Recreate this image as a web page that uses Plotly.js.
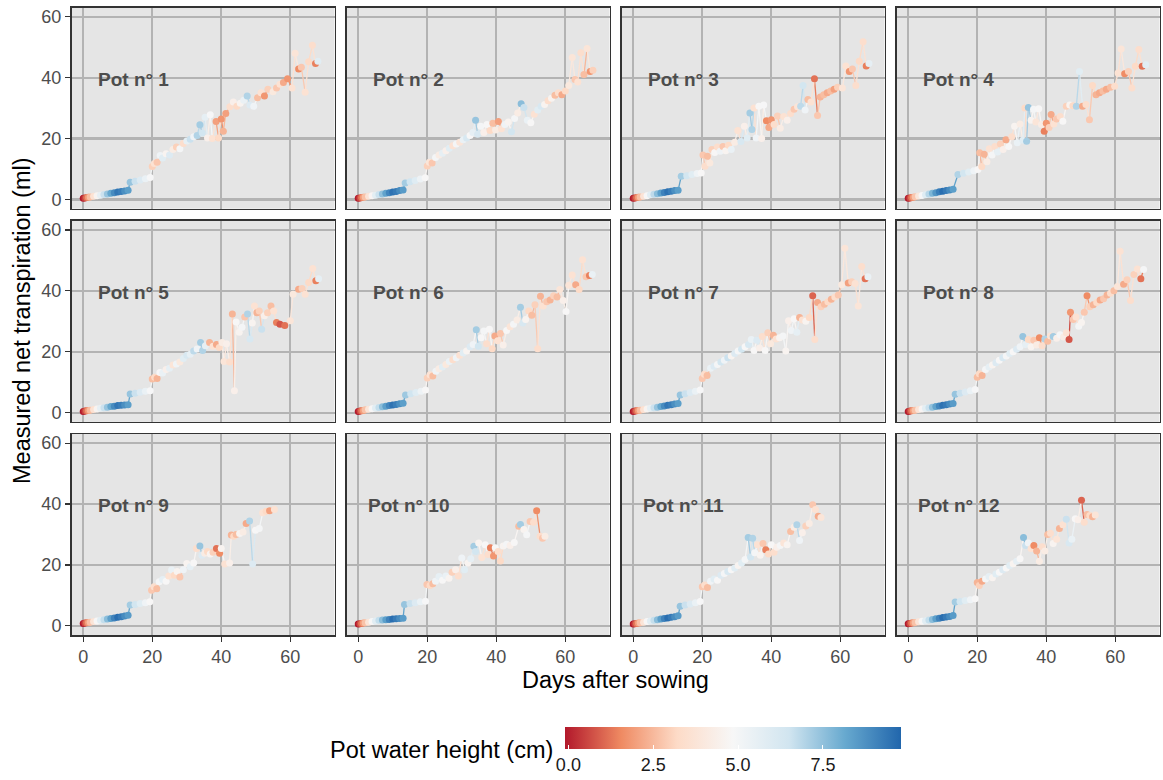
<!DOCTYPE html>
<html>
<head>
<meta charset="utf-8">
<script src="https://cdn.plot.ly/plotly-3.0.1.min.js"></script>
<style>html,body{margin:0;padding:0;background:#fff;}#chart{width:1163px;height:780px;}</style>
</head>
<body>
<div id="chart"></div>
<script>
// Each point: [days after sowing, measured net transpiration (ml), pot water height (cm)]
const pot1 = [[0,0.4,-0.1],[0.5,0.5,0.5],[1,0.6,1.2],[1.5,0.7,1.9],[2,0.8,2.6],[3,1.0,3.6],[4,1.2,4.6],[5,1.4,5.6],[6,1.6,6.6],[7,1.8,7.4],[8,2.0,8.2],[9,2.2,8.9],[10,2.4,9.4],[11,2.6,9.2],[12,2.8,8.8],[13,3.0,8.4],[13.6,5.6,7.4],[15,6.0,6.6],[16.5,6.4,6.0],[18,6.8,5.4],[19.4,7.2,4.9],
[20,10.8,3.0],[20.6,11.8,3.6],[21.4,12.2,2.8],[22.3,14.4,5.2],[23,13.6,5.8],[24,15.0,4.6],[25,14.6,6.0],[26,16.4,4.2],[27,17.2,3.0],[28,16.6,5.0],[29,18.4,3.4],[30,19.2,5.6],[31,19.8,6.6],[32,20.6,5.2],[33,21.0,7.0],[33.8,24.5,7.2],[34.5,21.8,6.4],[35.3,27.0,5.6],[36,20.2,4.4],[36.8,27.8,4.9],[37.4,20.0,3.6],[38.5,25.6,2.0],[39.2,20.2,3.2],[40,26.4,1.8],[40.6,22.4,2.4],[41.3,28.2,2.0],[42.5,30.4,3.4],[43.5,32.0,4.4],[44.5,30.6,3.2],[45.5,31.6,4.6],[46.5,32.6,5.4],[47.5,34.0,7.0],[48.3,31.0,6.0],[49.4,30.6,5.2],[50.5,33.4,2.6],[51.5,35.0,3.6],[52.5,34.0,1.8],[53.5,36.2,3.0],[55,35.4,4.0],[56,36.6,2.8],[57,37.8,3.6],[58,38.4,2.2],[59.2,39.6,1.8],[60.5,36.6,3.6],[61.4,48.0,3.8],[62.4,42.8,1.6],[63.2,43.4,2.8],[64.3,35.2,3.6],[65.3,45.2,3.2],[66.4,50.6,3.4],[67.3,44.6,1.4],[68,45.4,5.8]];

const pot2 = [[0,0.4,-0.1],[0.5,0.5,0.6],[1,0.6,1.3],[1.5,0.7,2.0],[2,0.8,2.7],[3,1.0,3.7],[4,1.2,4.7],[5,1.4,5.7],[6,1.6,6.6],[7,1.8,7.5],[8,2.0,8.3],[9,2.2,9.0],[10,2.4,9.5],[11,2.6,9.3],[12,2.9,8.9],[13,3.1,8.5],[13.6,5.4,7.2],[15,5.8,6.5],[16.5,6.2,5.9],[18,6.7,5.3],[19.4,7.1,4.8],
[20,11.0,3.0],[20.6,12.2,3.8],[21.4,12.0,2.8],[22.4,13.8,5.0],[23.4,14.6,4.2],[24.4,15.2,5.6],[25.4,16.0,4.4],[26.4,16.8,5.8],[27.4,17.6,3.6],[28.4,18.2,5.0],[29.4,18.8,3.8],[30.4,19.6,5.4],[31.4,20.2,6.2],[32.4,21.0,4.8],[33.2,22.0,5.6],[34,26.0,7.4],[34.6,21.4,6.2],[35.5,24.0,5.0],[36.4,22.0,4.4],[37.3,24.6,4.8],[38.2,22.6,3.2],[39,25.0,2.6],[39.8,22.8,4.2],[40.6,25.6,2.0],[41.5,23.2,3.6],[42.5,24.6,5.2],[43.5,25.4,4.6],[44.4,22.2,6.4],[45.3,26.6,5.0],[46.2,28.4,4.2],[47.2,31.4,7.6],[48,30.2,6.6],[49,26.0,5.4],[50,25.2,4.8],[51,28.0,3.6],[52,29.4,5.8],[53,30.6,6.2],[54,31.2,4.6],[55,32.4,3.4],[56,33.2,4.6],[57,34.2,2.6],[58,35.0,3.4],[59,34.4,2.2],[60,35.6,3.2],[61,37.4,4.0],[62,46.6,3.8],[62.8,39.4,2.8],[63.6,38.6,3.6],[64.5,48.2,3.4],[65.4,41.0,2.6],[66.3,49.6,3.8],[67.2,42.0,1.8],[68,42.4,3.0]];

const pot3 = [[0,0.4,-0.1],[0.5,0.5,0.5],[1,0.6,1.2],[1.5,0.7,1.9],[2,0.8,2.6],[3,1.0,3.7],[4,1.2,4.8],[5,1.5,5.8],[6,1.7,6.8],[7,1.9,7.6],[8,2.1,8.4],[9,2.3,9.1],[10,2.5,9.5],[11,2.7,9.2],[12,2.9,8.8],[13,3.0,8.4],[13.9,7.6,7.2],[15.5,7.8,6.4],[17,8.2,5.8],[18.5,8.5,5.2],[19.7,8.7,4.8],
[20.2,14.6,2.8],[20.8,10.9,3.4],[21.5,14.2,2.6],[22.2,12.0,4.0],[22.8,16.4,3.0],[23.6,15.4,4.8],[24.4,17.2,3.4],[25.2,15.8,5.2],[26,17.4,2.8],[26.8,16.0,4.6],[27.6,17.8,3.2],[28.4,16.4,5.4],[29.4,18.8,4.2],[30.3,22.6,3.6],[31.2,19.0,6.2],[32.2,24.0,4.4],[33,20.2,5.8],[33.8,28.4,7.2],[34.4,23.0,7.0],[35,30.0,3.6],[35.6,20.2,5.2],[36.4,30.6,4.8],[37.2,20.0,4.4],[37.8,31.0,4.9],[38.6,25.8,1.6],[39.3,23.6,2.2],[40,26.2,1.8],[40.8,24.6,3.4],[41.8,27.4,3.0],[42.6,23.4,4.2],[43.6,27.2,3.6],[44.6,26.0,4.4],[45.6,28.2,3.4],[46.6,29.6,2.8],[47.6,30.4,3.8],[48.5,30.6,6.8],[49.2,37.4,6.4],[49.8,29.4,5.2],[50.6,32.8,2.6],[51.5,32.0,3.6],[52.5,39.6,1.2],[53.4,27.6,2.8],[54.2,33.6,2.4],[55.2,34.4,2.6],[56.2,35.0,2.2],[57.2,35.6,2.6],[58.2,36.2,2.0],[59.2,36.8,3.0],[60.6,36.6,3.8],[61.6,43.8,3.6],[62.6,42.0,1.8],[63.5,42.8,2.8],[64.5,37.4,3.4],[65.5,45.4,3.2],[66.6,51.8,3.4],[67.5,43.8,1.4],[68.3,44.6,5.6]];

const pot4 = [[0,0.4,-0.1],[0.5,0.5,0.6],[1,0.6,1.3],[1.5,0.7,2.0],[2,0.9,2.8],[3,1.1,3.9],[4,1.3,4.9],[5,1.5,5.9],[6,1.8,6.9],[7,2.0,7.8],[8,2.2,8.6],[9,2.5,9.2],[10,2.7,9.6],[11,2.9,9.3],[12,3.1,8.9],[13,3.3,8.4],[14.4,8.2,7.0],[16,8.6,6.4],[17.5,9.0,5.8],[19,9.4,5.2],[20.2,9.8,4.8],
[20.7,15.3,2.6],[21.3,10.8,3.2],[22,14.8,2.4],[22.8,12.4,4.2],[23.5,16.6,3.6],[24.3,14.6,5.0],[25.1,17.4,3.4],[25.9,15.6,5.6],[26.7,18.2,3.0],[27.5,16.4,4.4],[28.3,19.6,2.2],[29.1,17.4,4.8],[30,20.6,3.4],[30.8,24.0,4.6],[31.6,18.6,5.4],[32.4,24.8,4.2],[33.2,19.4,5.8],[33.8,30.0,3.2],[34.3,19.1,7.2],[34.8,30.2,7.4],[35.6,26.0,4.6],[36.3,29.6,5.0],[37,25.4,3.8],[37.8,29.8,4.8],[38.6,24.6,4.2],[39.4,22.4,1.4],[40,25.0,1.8],[40.8,23.6,3.0],[41.4,27.9,2.2],[42.2,24.8,3.6],[43,26.4,2.8],[44,27.2,3.4],[44.8,25.7,4.8],[45.8,30.6,3.0],[46.8,31.0,4.6],[47.7,30.8,3.2],[48.7,30.6,7.0],[49.6,42.0,5.8],[50.5,30.6,2.2],[51.5,31.2,3.4],[52.5,26.2,2.8],[53.4,37.4,3.2],[54.4,34.4,2.4],[55.4,35.0,2.2],[56.4,35.6,2.6],[57.4,36.2,2.2],[58.6,36.8,2.6],[59.8,37.2,3.4],[60.8,41.5,3.6],[61.7,49.4,3.8],[62.7,41.3,1.6],[63.8,42.0,3.0],[64.8,36.6,3.4],[65.8,43.7,3.2],[66.8,49.2,3.4],[67.8,43.7,1.2],[68.8,44.2,5.8]];

const pot5 = [[0,0.4,-0.1],[0.5,0.5,0.5],[1,0.6,1.2],[1.5,0.7,1.9],[2,0.8,2.6],[3,1.0,3.6],[4,1.2,4.6],[5,1.4,5.6],[6,1.6,6.6],[7,1.8,7.4],[8,2.0,8.2],[9,2.1,8.9],[10,2.3,9.4],[11,2.4,9.2],[12,2.5,8.8],[13,2.6,8.4],[13.6,6.1,7.4],[15,6.4,6.6],[16.5,6.7,6.0],[18,7.0,5.4],[19.4,7.2,4.9],
[20,11.0,2.6],[20.7,11.6,3.2],[21.4,11.2,2.4],[22.2,13.2,4.8],[23,13.0,5.4],[24,14.2,4.4],[25,14.6,5.6],[26,15.6,3.8],[27,16.0,5.2],[28,16.6,4.0],[29,17.8,5.8],[30,18.8,6.2],[31,19.2,5.6],[32,20.2,6.8],[33,20.9,5.2],[34,23.0,7.2],[34.6,20.4,7.0],[35.4,22.0,5.6],[36.6,23.0,2.4],[37.6,21.8,3.6],[38.6,22.4,2.2],[39.4,21.4,3.2],[40.2,23.0,4.2],[40.8,16.8,3.8],[41.5,22.6,4.4],[42.4,16.6,3.4],[43.2,32.4,2.4],[43.8,7.2,4.4],[44.3,29.8,4.8],[45.2,26.4,4.6],[46,28.0,5.0],[46.8,31.4,2.8],[47.6,32.4,7.0],[48.3,24.2,6.2],[49,29.4,4.6],[49.6,35.0,3.6],[50.3,32.8,2.4],[51,33.4,3.0],[51.7,27.4,6.6],[52.5,31.8,4.4],[53.4,32.8,3.0],[54.4,35.0,2.6],[55.2,33.4,3.6],[56,29.6,1.4],[57,29.0,0.8],[58.4,28.6,1.2],[60,30.2,3.8],[60.8,38.9,4.0],[62.4,40.5,2.2],[63.4,40.8,3.0],[64.3,38.9,3.6],[65.3,42.7,3.2],[66.5,47.3,3.6],[67.4,43.3,1.4],[68.2,44.0,5.6]];

const pot6 = [[0,0.4,-0.1],[0.5,0.5,0.6],[1,0.6,1.3],[1.5,0.7,2.0],[2,0.9,2.7],[3,1.1,3.8],[4,1.3,4.8],[5,1.5,5.8],[6,1.7,6.7],[7,1.9,7.6],[8,2.1,8.4],[9,2.3,9.0],[10,2.5,9.5],[11,2.7,9.2],[12,2.9,8.8],[13,3.1,8.4],[13.7,5.8,7.3],[15.2,6.2,6.5],[16.7,6.6,5.9],[18.2,7.0,5.3],[19.5,7.4,4.8],
[20,11.4,3.0],[20.8,12.4,3.6],[21.6,12.0,2.6],[22.5,13.6,5.2],[23.4,14.4,4.2],[24.4,15.0,5.8],[25.4,15.8,4.0],[26.4,16.8,5.4],[27.4,17.4,3.4],[28.4,18.0,5.2],[29.4,18.8,3.6],[30.4,19.6,5.8],[31.4,20.2,4.6],[32.4,21.6,6.0],[33.3,22.4,5.2],[34.2,27.2,7.2],[34.8,21.8,6.4],[35.6,24.6,4.8],[36.4,26.8,5.0],[37.2,22.6,3.4],[38,27.4,4.8],[38.8,21.0,3.2],[39.6,25.2,2.2],[40.4,23.6,3.6],[41.2,26.0,2.8],[42,22.2,4.4],[43,27.0,4.8],[44,28.2,3.8],[45,29.0,5.0],[46,30.4,4.2],[47,34.6,7.2],[47.7,29.4,6.2],[48.5,30.6,4.6],[49.4,33.4,3.2],[50.3,32.0,2.6],[51.2,35.4,3.0],[52,21.0,3.4],[52.8,38.2,2.4],[53.6,35.0,3.6],[54.6,36.4,2.8],[55.6,37.0,2.4],[56.6,38.4,3.0],[57.6,38.0,2.6],[58.4,40.4,3.8],[59.4,36.8,4.4],[60.2,33.2,4.8],[61,41.8,3.8],[62,45.2,3.6],[63,42.0,2.2],[64,40.4,3.2],[65,50.2,3.6],[66,44.6,2.8],[67,45.0,1.4],[67.8,45.4,5.4]];

const pot7 = [[0,0.4,-0.1],[0.5,0.5,0.5],[1,0.6,1.2],[1.5,0.7,1.9],[2,0.8,2.6],[3,1.0,3.6],[4,1.2,4.6],[5,1.4,5.6],[6,1.6,6.6],[7,1.8,7.4],[8,2.0,8.2],[9,2.2,8.9],[10,2.4,9.4],[11,2.6,9.2],[12,2.8,8.8],[13,3.0,8.4],[13.6,5.8,7.4],[15,6.2,6.6],[16.5,6.6,6.0],[18,7.0,5.4],[19.4,7.4,4.9],
[20,11.2,2.8],[20.6,12.6,3.4],[21.4,12.2,2.6],[22.4,14.6,5.4],[23.4,15.2,6.0],[24.4,15.8,5.0],[25.4,16.6,6.4],[26.4,17.2,5.2],[27.4,18.0,6.6],[28.4,18.6,4.6],[29.4,19.4,6.0],[30.4,20.2,5.0],[31.4,20.8,6.4],[32.4,21.6,4.8],[33.4,22.4,6.2],[34.2,24.0,5.4],[35,20.4,4.8],[35.8,23.8,6.0],[36.6,21.2,4.4],[37.4,25.0,3.4],[38.2,20.4,4.8],[39,26.2,3.0],[39.8,22.6,4.0],[40.6,25.4,2.4],[41.4,24.2,3.6],[42.4,24.6,4.6],[43.4,25.2,5.0],[44.2,20.2,4.6],[45,30.2,4.4],[45.8,27.0,5.2],[46.6,30.8,4.8],[47.4,26.4,5.6],[48.2,31.2,2.4],[49,30.4,3.6],[50,30.0,4.6],[51,31.2,3.2],[52,38.4,1.0],[52.6,24.0,3.4],[53.4,36.2,2.2],[54.4,34.8,3.0],[55.4,35.6,2.6],[56.4,36.4,3.2],[57.4,37.2,2.4],[58.4,38.0,3.4],[59.4,38.6,2.8],[60.4,42.0,4.0],[61.3,54.0,3.8],[62.3,42.6,2.0],[63.3,43.0,3.0],[64.3,42.4,3.6],[65.2,35.0,3.8],[66.2,48.0,3.4],[67.2,44.0,1.2],[68,44.6,5.4]];

const pot8 = [[0,0.4,-0.1],[0.5,0.5,0.6],[1,0.6,1.3],[1.5,0.7,2.0],[2,0.8,2.7],[3,1.0,3.7],[4,1.2,4.7],[5,1.4,5.7],[6,1.6,6.6],[7,1.8,7.5],[8,2.0,8.3],[9,2.2,9.0],[10,2.4,9.5],[11,2.6,9.3],[12,2.8,8.9],[13,3.0,8.5],[13.6,6.0,7.4],[15,6.4,6.6],[16.5,6.8,6.0],[18,7.2,5.4],[19.4,7.6,4.9],
[20,11.6,2.6],[20.6,12.8,3.2],[21.4,12.2,2.4],[22.4,14.2,5.0],[23.4,15.0,5.6],[24.4,15.6,4.6],[25.4,16.4,6.0],[26.4,17.2,4.8],[27.4,18.0,6.2],[28.4,18.6,5.0],[29.4,19.4,5.8],[30.4,20.0,4.8],[31.4,20.8,6.0],[32.4,21.6,5.2],[33.2,25.0,7.4],[34,22.4,5.6],[34.8,24.0,3.2],[35.6,21.6,4.6],[36.4,23.8,2.8],[37.2,22.2,4.2],[38,24.6,1.6],[38.8,22.0,3.4],[39.6,24.2,7.0],[40.4,23.4,2.6],[41.2,25.2,3.6],[42,25.0,7.2],[43,24.4,4.4],[44,25.6,5.0],[45,24.8,4.2],[45.8,26.2,3.6],[46.6,24.0,0.8],[47,33.0,1.8],[47.8,30.6,2.8],[48.6,31.4,3.6],[49.4,28.4,5.0],[50.2,29.6,4.6],[51,33.0,2.8],[51.8,38.4,1.6],[52.6,34.8,3.0],[53.6,35.4,2.4],[54.6,36.2,3.2],[55.6,37.0,2.2],[56.6,37.4,2.8],[57.6,38.6,2.4],[58.6,39.2,3.4],[59.6,40.0,2.6],[60.6,41.4,3.8],[61.4,53.0,3.6],[62.4,42.2,2.2],[63.4,43.6,3.0],[64.4,36.8,3.4],[65.4,45.4,3.0],[66.4,47.2,3.6],[67.4,44.0,1.2],[68.2,47.0,5.0]];

const pot9 = [[0,0.8,-0.1],[0.5,0.9,0.6],[1,1.0,1.3],[1.5,1.1,2.0],[2,1.2,2.7],[3,1.4,3.8],[4,1.6,4.8],[5,1.8,5.8],[6,2.0,6.7],[7,2.2,7.6],[8,2.4,8.4],[9,2.6,9.1],[10,2.8,9.6],[11,3.0,9.3],[12,3.2,8.9],[13,3.5,8.5],[13.6,6.8,7.2],[15,7.0,6.4],[16.5,7.3,5.8],[18,7.6,5.2],[19.3,7.9,4.8],
[19.8,11.7,2.8],[20.5,12.8,3.4],[21.3,12.2,2.6],[22,14.5,5.0],[23,15.2,5.6],[24,14.6,4.8],[24.8,16.4,3.6],[25.6,18.3,5.4],[26.4,16.6,3.2],[27.2,17.8,4.6],[28,16.0,2.8],[29,18.4,5.2],[30,20.5,4.6],[31,19.4,5.6],[32,20.6,4.8],[32.8,25.4,3.4],[33.8,26.2,7.4],[34.4,23.2,6.0],[35.2,23.8,4.2],[36,24.4,3.2],[36.8,23.6,4.6],[37.6,24.2,3.0],[38.6,25.4,1.2],[39.5,23.8,1.6],[40,25.4,4.6],[41,20.3,3.6],[42.4,20.6,4.4],[42.9,29.8,2.4],[43.6,29.4,3.2],[44.3,30.0,2.6],[45.3,30.3,4.6],[46.3,30.8,4.2],[47.2,33.6,2.2],[48.2,34.4,7.0],[49.1,20.3,6.0],[49.9,31.4,4.8],[51,32.0,5.0],[52,37.1,3.6],[53,37.6,3.2],[54,37.8,2.0],[55.4,38.2,3.6]];

const pot10 = [[0,0.6,-0.1],[0.5,0.7,0.6],[1,0.8,1.3],[1.5,0.9,2.0],[2,1.0,2.7],[3,1.2,3.8],[4,1.4,4.8],[5,1.6,5.8],[6,1.8,6.7],[7,1.9,7.6],[8,2.0,8.4],[9,2.1,9.1],[10,2.2,9.6],[11,2.3,9.3],[12,2.4,8.9],[13,2.5,8.5],[13.4,7.0,7.4],[15,7.3,6.6],[16.5,7.6,6.0],[18,7.9,5.4],[19.5,8.1,4.9],
[19.9,13.6,2.8],[20.8,13.2,3.2],[21.6,13.8,2.6],[22.4,14.6,5.2],[23.4,16.2,5.6],[24.4,15.0,4.8],[25.4,16.4,5.4],[26.3,15.6,4.6],[27.2,17.6,3.0],[28.2,18.4,4.4],[29,16.4,3.4],[30,22.3,5.2],[30.8,18.4,5.8],[31.8,20.6,4.6],[32.6,22.0,5.6],[33.5,26.1,7.2],[34,24.4,6.4],[34.9,27.2,4.6],[35.8,22.4,3.6],[36.8,26.6,4.8],[37.6,23.4,3.4],[38.3,25.6,1.4],[39.2,22.9,1.8],[39.7,25.6,4.8],[40.5,24.4,3.4],[41.2,21.3,3.2],[42,26.2,4.6],[43,26.8,5.0],[44,26.4,4.4],[45.2,27.4,4.8],[46.5,32.7,2.6],[47,33.3,7.2],[48,31.6,4.6],[48.8,29.9,5.0],[49.8,34.3,2.8],[50.8,34.0,3.4],[51.7,37.8,1.6],[52.7,29.4,3.4],[53.4,28.8,2.8],[54.1,29.4,4.2]];

const pot11 = [[0,0.6,-0.1],[0.5,0.7,0.6],[1,0.8,1.3],[1.5,0.9,2.0],[2,1.0,2.7],[3,1.2,3.8],[4,1.4,4.8],[5,1.6,5.8],[6,1.8,6.7],[7,2.0,7.6],[8,2.2,8.4],[9,2.4,9.1],[10,2.6,9.6],[11,2.8,9.3],[12,3.0,8.9],[13,3.3,8.5],[13.6,6.4,7.4],[15,6.8,6.6],[16.5,7.2,6.0],[18,7.6,5.4],[19.4,8.0,4.9],
[20,12.8,2.8],[20.7,13.4,3.4],[21.5,12.6,2.6],[22.4,14.6,5.2],[23.4,15.4,5.8],[24.4,15.0,4.8],[25.4,16.6,6.0],[26.4,17.2,5.0],[27.4,17.8,6.2],[28.4,18.4,4.8],[29.4,19.0,5.8],[30.4,19.8,4.6],[31.4,20.6,5.8],[32.4,21.8,5.0],[33.3,29.0,7.2],[34,22.6,6.4],[34.6,28.8,7.0],[35.2,24.0,5.0],[36,26.6,3.6],[36.8,23.2,4.6],[37.6,27.0,2.8],[38.4,25.0,1.4],[39.2,23.6,3.2],[40,26.6,4.8],[40.8,24.2,3.4],[41.6,25.8,4.4],[42.6,26.4,5.0],[43.6,27.2,3.8],[44.6,26.6,4.6],[45.6,31.0,2.6],[46.6,32.4,4.2],[47.4,33.2,7.0],[48.2,28.0,5.2],[49,30.6,4.4],[50,32.8,3.0],[51,33.6,4.2],[52,39.8,2.8],[52.8,38.2,3.6],[53.6,36.0,2.2],[54.4,35.6,3.8]];

const pot12 = [[0,0.7,-0.1],[0.5,0.8,0.6],[1,0.9,1.3],[1.5,1.0,2.0],[2,1.1,2.7],[3,1.3,3.8],[4,1.5,4.8],[5,1.7,5.8],[6,1.9,6.7],[7,2.1,7.6],[8,2.3,8.4],[9,2.5,9.1],[10,2.7,9.6],[11,2.9,9.3],[12,3.1,8.9],[13,3.4,8.5],[13.6,7.8,7.2],[15,8.0,6.4],[16.5,8.3,5.8],[18,8.6,5.2],[19.4,8.9,4.8],
[20,14.2,2.4],[20.6,13.2,3.0],[21.4,14.6,2.2],[22.4,15.4,5.0],[23.4,16.2,5.6],[24.4,15.8,4.6],[25.4,17.0,5.8],[26.4,17.6,4.8],[27.4,18.4,6.0],[28.4,19.0,4.8],[29.4,19.8,5.8],[30.4,20.4,4.6],[31.4,21.2,5.6],[32.4,22.0,4.8],[33.4,29.0,7.6],[34,26.4,6.6],[34.8,27.2,5.2],[35.6,25.4,3.6],[36.4,26.4,1.6],[37.2,24.6,2.4],[38,21.2,4.2],[38.8,26.0,3.4],[39.6,24.6,4.2],[40.4,30.0,2.6],[41.2,30.4,3.4],[42,27.0,4.6],[43,28.4,3.8],[43.8,32.0,2.4],[44.8,33.2,3.6],[45.8,35.0,6.6],[46.6,27.2,6.2],[47.4,28.4,5.4],[48.4,35.2,4.8],[49.2,34.8,4.4],[50.2,41.2,1.0],[51,34.0,3.4],[51.8,36.6,2.6],[52.6,36.2,3.2],[53.4,35.8,2.4],[54.2,36.4,3.8]];

const pots = [pot1, pot2, pot3, pot4, pot5, pot6, pot7, pot8, pot9, pot10, pot11, pot12];
const potLabels = ["Pot n° 1","Pot n° 2","Pot n° 3","Pot n° 4","Pot n° 5","Pot n° 6","Pot n° 7","Pot n° 8","Pot n° 9","Pot n° 10","Pot n° 11","Pot n° 12"];
const xTicks = [0, 20, 40, 60];
const yTicks = [0, 20, 40, 60];
const cbTicks = [0, 2.5, 5, 7.5];
const cbTickText = ["0.0", "2.5", "5.0", "7.5"];

// ---- styling ----
const W = 1163, H = 780;
const FONT = "Liberation Sans, Arial, Helvetica, sans-serif";
const CMIN = -0.1, CMAX = 9.8;
const rdbu = [[0,[178,24,43]],[1/6,[239,138,98]],[2/6,[253,219,199]],[3/6,[247,247,247]],[4/6,[209,229,240]],[5/6,[103,169,207]],[1,[33,102,172]]];
const colorscale = rdbu.map(s => [s[0], 'rgb(' + s[1].join(',') + ')']);
function colorAt(v) {
  let t = (v - CMIN) / (CMAX - CMIN);
  t = Math.max(0, Math.min(1, t));
  for (let i = 0; i < rdbu.length - 1; i++) {
    const a = rdbu[i], b = rdbu[i + 1];
    if (t <= b[0]) {
      const f = (t - a[0]) / (b[0] - a[0]);
      const c = a[1].map((ca, k) => Math.round(ca + f * (b[1][k] - ca)));
      return 'rgb(' + c.join(',') + ')';
    }
  }
  return 'rgb(' + rdbu[rdbu.length - 1][1].join(',') + ')';
}

const colX = [[71.5, 334.5], [346.5, 609.5], [621.5, 884.5], [896.5, 1159.5]];
const rowY = [[7.6, 208.7], [220.8, 421.9], [434.0, 635.1]];

const traces = [];
const layout = {
  width: W, height: H,
  margin: {l: 0, r: 0, t: 0, b: 0, autoexpand: false},
  paper_bgcolor: '#ffffff',
  plot_bgcolor: '#E5E5E5',
  showlegend: false,
  font: {family: FONT},
  annotations: []
};

const NB = 28;
pots.forEach((pts, i) => {
  const row = Math.floor(i / 4), col = i % 4;
  const n = i + 1;
  const xa = n === 1 ? 'x' : 'x' + n;
  const ya = n === 1 ? 'y' : 'y' + n;
  const xKey = n === 1 ? 'xaxis' : 'xaxis' + n;
  const yKey = n === 1 ? 'yaxis' : 'yaxis' + n;

  layout[xKey] = {
    domain: [colX[col][0] / W, colX[col][1] / W],
    anchor: ya,
    range: [-3.4, 72.8],
    tickvals: xTicks,
    showticklabels: row === 2,
    ticks: row === 2 ? 'outside' : '',
    ticklen: 5, tickwidth: 1.2, tickcolor: '#333333',
    tickfont: {family: FONT, size: 18, color: '#4D4D4D'},
    showline: true, mirror: true, linecolor: '#333333', linewidth: 1.5,
    showgrid: true, gridcolor: '#B3B3B3', gridwidth: 2.2,
    zeroline: false, fixedrange: true, automargin: false
  };
  layout[yKey] = {
    domain: [1 - rowY[row][1] / H, 1 - rowY[row][0] / H],
    anchor: xa,
    range: [-3.05, 63.0],
    tickvals: yTicks,
    showticklabels: col === 0,
    ticks: col === 0 ? 'outside' : '',
    ticklen: 5, tickwidth: 1.2, tickcolor: '#333333',
    tickfont: {family: FONT, size: 18, color: '#4D4D4D'},
    showline: true, mirror: true, linecolor: '#333333', linewidth: 1.5,
    showgrid: true, gridcolor: '#B3B3B3', gridwidth: 2.2,
    zeroline: false, fixedrange: true, automargin: false
  };

  // line segments, grouped by colour of segment start point
  const bins = {};
  for (let k = 0; k < pts.length - 1; k++) {
    const v = pts[k][2];
    const b = Math.round((v - CMIN) / (CMAX - CMIN) * (NB - 1));
    if (!bins[b]) bins[b] = {x: [], y: []};
    bins[b].x.push(pts[k][0], pts[k + 1][0], null);
    bins[b].y.push(pts[k][1], pts[k + 1][1], null);
  }
  Object.keys(bins).forEach(b => {
    const val = CMIN + (+b) / (NB - 1) * (CMAX - CMIN);
    traces.push({
      type: 'scatter', mode: 'lines',
      x: bins[b].x, y: bins[b].y,
      xaxis: xa, yaxis: ya,
      line: {color: colorAt(val), width: 1.3},
      connectgaps: false, hoverinfo: 'skip', showlegend: false
    });
  });

  traces.push({
    type: 'scatter', mode: 'markers',
    x: pts.map(p => p[0]), y: pts.map(p => p[1]),
    xaxis: xa, yaxis: ya,
    marker: {
      size: 7,
      color: pts.map(p => p[2]),
      colorscale: colorscale, cmin: CMIN, cmax: CMAX,
      line: {width: 0},
      showscale: i === 0,
      colorbar: {
        orientation: 'h',
        xref: 'container', yref: 'container',
        x: 733 / W, xanchor: 'center',
        y: 1 - 727 / H, yanchor: 'top',
        len: 336, lenmode: 'pixels',
        thickness: 22, thicknessmode: 'pixels',
        outlinewidth: 0, xpad: 0, ypad: 0,
        tickvals: cbTicks, ticktext: cbTickText,
        ticks: 'inside', ticklen: 4, tickcolor: '#ffffff', tickwidth: 1,
        tickfont: {family: FONT, size: 18, color: '#1A1A1A'},
        title: {text: ''}
      }
    },
    showlegend: false, hoverinfo: 'skip'
  });

  layout.annotations.push({
    xref: xa, yref: ya, x: 14.6, y: 39.5,
    text: '<b>' + potLabels[i] + '</b>',
    showarrow: false, xanchor: 'center', yanchor: 'middle',
    font: {family: FONT, size: 19, color: '#4D4D4D'}
  });
});

// global titles
layout.annotations.push({
  xref: 'paper', yref: 'paper', x: 615.5 / W, y: 1 - 680 / H,
  text: 'Days after sowing', showarrow: false,
  xanchor: 'center', yanchor: 'middle',
  font: {family: FONT, size: 23.5, color: '#000000'}
});
layout.annotations.push({
  xref: 'paper', yref: 'paper', x: 22 / W, y: 1 - 321 / H,
  text: 'Measured net transpiration (ml)', showarrow: false, textangle: -90,
  xanchor: 'center', yanchor: 'middle',
  font: {family: FONT, size: 23.5, color: '#000000'}
});
layout.annotations.push({
  xref: 'paper', yref: 'paper', x: 555 / W, y: 1 - 750 / H,
  text: 'Pot water height (cm)', showarrow: false,
  xanchor: 'right', yanchor: 'middle',
  font: {family: FONT, size: 23.5, color: '#000000'}
});

Plotly.newPlot('chart', traces, layout, {displayModeBar: false, staticPlot: true});
</script>
</body>
</html>
